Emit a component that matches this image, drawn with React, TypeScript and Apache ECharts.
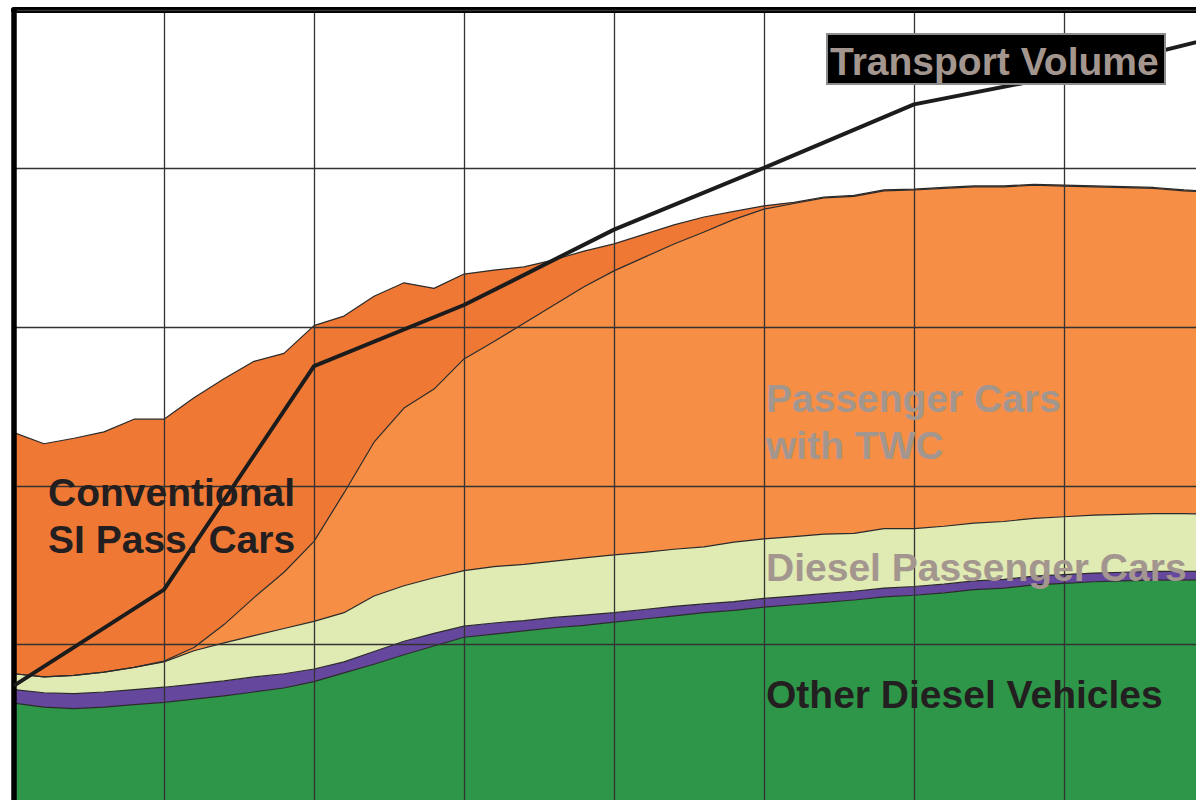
import React, { useEffect, useRef } from "react";
import * as echarts from "echarts";

const years = [
  "1980", "1981", "1982", "1983", "1984", "1985", "1986", "1987", "1988", "1989",
  "1990", "1991", "1992", "1993", "1994", "1995", "1996", "1997", "1998", "1999",
  "2000", "2001", "2002", "2003", "2004", "2005", "2006", "2007", "2008", "2009",
  "2010", "2011", "2012", "2013", "2014", "2015", "2016", "2017", "2018", "2019",
  "2020",
];

const otherDiesel = [
  12.6, 12.1, 11.9, 12.1, 12.4, 12.7, 13.1, 13.5, 14.0, 14.5,
  15.3, 16.4, 17.5, 18.7, 19.8, 20.9, 21.3, 21.7, 22.1, 22.4,
  22.8, 23.2, 23.6, 24.0, 24.3, 24.7, 25.0, 25.3, 25.6, 26.0,
  26.2, 26.5, 26.9, 27.1, 27.5, 27.7, 27.9, 28.0, 28.1, 28.1,
  28.2,
];

const purpleBand = [
  1.7, 1.8, 1.9, 1.9, 1.9, 1.9, 1.9, 1.9, 1.9, 1.8,
  1.6, 1.4, 1.6, 1.7, 1.6, 1.4, 1.4, 1.3, 1.3, 1.3,
  1.2, 1.2, 1.2, 1.1, 1.1, 1.1, 1.1, 1.1, 1.1, 1.1,
  1.1, 1.1, 1.1, 1.1, 1.1, 1.1, 1.1, 1.1, 1.1, 1.1,
  1.0,
];

const dieselPassengerCars = [
  2.0, 2.0, 2.3, 2.5, 2.8, 3.2, 4.2, 4.8, 5.2, 5.7,
  6.0, 6.2, 7.0, 7.0, 7.0, 7.0, 7.1, 7.1, 7.1, 7.2,
  7.3, 7.2, 7.2, 7.2, 7.5, 7.5, 7.5, 7.5, 7.3, 7.5,
  7.3, 7.3, 7.3, 7.3, 7.3, 7.3, 7.3, 7.3, 7.3, 7.3,
  7.2,
];

const passengerCarsTWC = [
  0, 0, 0, 0, 0, 0.1, 0.4, 2.3, 4.8, 7.1,
  10.1, 15.1, 19.4, 22.4, 23.8, 26.7, 28.4, 30.4, 32.3, 34.2,
  35.8, 37.2, 38.5, 39.7, 40.7, 41.6, 42.0, 42.4, 42.5, 42.6,
  42.7, 42.6, 42.4, 42.2, 42.0, 41.7, 41.4, 41.2, 41.0, 40.7,
  40.6,
];

const conventionalSI = [
  30.4, 29.4, 29.9, 30.3, 31.3, 30.5, 31.5, 31.0, 29.8, 27.6,
  27.2, 22.3, 18.4, 15.8, 12.7, 10.7, 9.0, 7.1, 5.7, 4.5,
  3.4, 2.9, 2.4, 1.9, 1.0, 0.4, 0.15, 0.12, 0.12, 0.12,
  0.12, 0.12, 0.12, 0.12, 0.12, 0.12, 0.12, 0.12, 0.12, 0.12,
  0.12,
];

const transportYears = ["1980", "1985", "1990", "1995", "2000", "2005", "2010", "2015", "2020"];
const transportVolume = [14.8, 26.9, 55.1, 62.8, 72.3, 80.1, 88.1, 91.8, 96.5];

const yTicks = [0, 20, 40, 60, 80, 100];

const FONT = '"Liberation Sans", Arial, Helvetica, sans-serif';
const GRAY = "#a3968f";
const DARK = "#231f20";

export default function App() {
  const ref = useRef<HTMLDivElement>(null);

  useEffect(() => {
    if (!ref.current) return;
    const chart = echarts.init(ref.current, null, { renderer: "svg" });
    const outline = { color: "#2b2b2b", width: 1.2 };
    const areaSeries = (name: string, data: number[], color: string) => ({
      name,
      type: "line",
      stack: "total",
      data,
      showSymbol: false,
      smooth: false,
      z: 2,
      lineStyle: outline,
      areaStyle: { color, opacity: 1 },
      itemStyle: { color },
    });
    const label = (text: string, x: number, y: number, fill: string) => ({
      type: "text",
      x,
      y,
      z: 20,
      style: {
        text,
        fill,
        fontSize: 39,
        fontWeight: "bold",
        fontFamily: FONT,
        textVerticalAlign: "middle",
        verticalAlign: "middle",
        lineHeight: 47,
      },
    });
    chart.setOption({
      animation: false,
      backgroundColor: "#ffffff",
      grid: { left: 14, top: 10, width: 1200, height: 793, containLabel: false },
      xAxis: {
        type: "category",
        data: years,
        boundaryGap: false,
        position: "top",
        z: 5,
        axisLine: { show: true, onZero: false, lineStyle: { color: "#000", width: 6 } },
        axisTick: { show: false },
        axisLabel: { show: false },
        splitLine: {
          show: true,
          interval: (i: number) => i % 5 === 0,
          lineStyle: { color: "#333", width: 1.3 },
        },
      },
      yAxis: {
        type: "value",
        min: yTicks[0],
        max: yTicks[yTicks.length - 1],
        interval: 20,
        z: 6,
        axisLine: { show: true, onZero: false, lineStyle: { color: "#000", width: 5.5 } },
        axisTick: { show: false },
        axisLabel: { show: false },
        splitLine: { show: true, lineStyle: { color: "#333", width: 1.3 } },
      },
      series: [
        areaSeries("Other Diesel Vehicles", otherDiesel, "#2e9648"),
        areaSeries("Other", purpleBand, "#66479e"),
        areaSeries("Diesel Passenger Cars", dieselPassengerCars, "#e0eab3"),
        areaSeries("Passenger Cars with TWC", passengerCarsTWC, "#f68e45"),
        areaSeries("Conventional SI Pass. Cars", conventionalSI, "#f07835"),
        {
          name: "Transport Volume",
          type: "line",
          data: transportYears.map((y, i) => [y, transportVolume[i]]),
          showSymbol: false,
          z: 8,
          lineStyle: { color: "#1c1c1c", width: 4 },
          itemStyle: { color: "#1c1c1c" },
        },
      ],
      graphic: [
        {
          type: "rect",
          z: 19,
          shape: { x: 827, y: 34, width: 338, height: 50 },
          style: { fill: "#000", stroke: "#8c8c8c", lineWidth: 2 },
        },
        label("Transport Volume", 830, 61, GRAY),
        label("Passenger Cars\nwith TWC", 766, 422, GRAY),
        label("Diesel Passenger Cars", 766, 567, GRAY),
        label("Other Diesel Vehicles", 766, 694, DARK),
        label("Conventional\nSI Pass. Cars", 48, 516, DARK),
      ],
    });
    return () => chart.dispose();
  }, []);

  return (
    <div
      style={{ position: "fixed", left: 0, top: 0, width: 1196, height: 800, overflow: "hidden", background: "#fff" }}
    >
      <div ref={ref} style={{ width: 1230, height: 820 }} />
    </div>
  );
}
